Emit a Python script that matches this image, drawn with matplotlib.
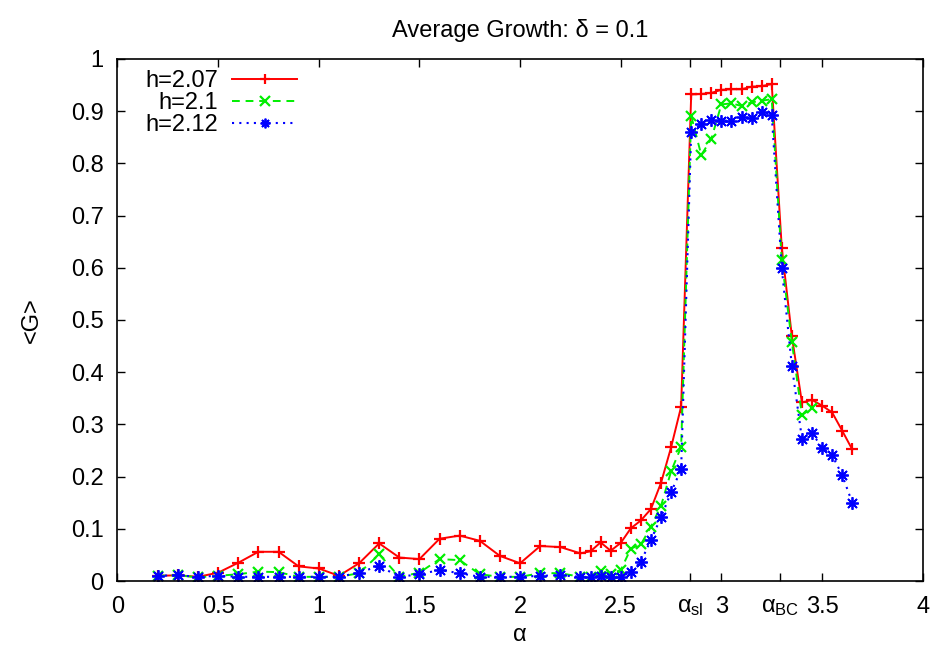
import matplotlib
matplotlib.use("Agg")
import matplotlib.pyplot as plt

plt.rcParams['font.family'] = ['Liberation Sans', 'DejaVu Sans']
plt.rcParams['mathtext.fontset'] = 'custom'
plt.rcParams['mathtext.rm'] = 'Liberation Sans'
plt.rcParams['mathtext.it'] = 'Liberation Sans'
plt.rcParams['mathtext.bf'] = 'Liberation Sans:bold'

# alpha sample points
alpha = [0.2, 0.3, 0.4, 0.5, 0.6, 0.7, 0.8, 0.9, 1.0, 1.1, 1.2, 1.3, 1.4, 1.5,
         1.6, 1.7, 1.8, 1.9, 2.0, 2.1, 2.2, 2.3, 2.35, 2.4, 2.45, 2.5, 2.55,
         2.6, 2.65, 2.7, 2.75, 2.8, 2.85, 2.9, 2.95, 3.0, 3.05, 3.1, 3.15,
         3.2, 3.25, 3.3, 3.35, 3.4, 3.45, 3.5, 3.55, 3.6, 3.65]

g_h207 = [0.010, 0.011, 0.008, 0.016, 0.035, 0.056, 0.056, 0.028, 0.024, 0.010,
          0.034, 0.072, 0.045, 0.042, 0.081, 0.087, 0.077, 0.048, 0.034, 0.067,
          0.065, 0.053, 0.057, 0.074, 0.058, 0.073, 0.101, 0.116, 0.138, 0.188,
          0.256, 0.334, 0.932, 0.933, 0.935, 0.941, 0.942, 0.942, 0.947, 0.948,
          0.952, 0.638, 0.469, 0.342, 0.347, 0.336, 0.323, 0.288, 0.252]

g_h210 = [0.010, 0.011, 0.007, 0.010, 0.013, 0.018, 0.017, 0.008, 0.008, 0.008,
          0.015, 0.051, 0.008, 0.016, 0.042, 0.040, 0.013, 0.008, 0.008, 0.015,
          0.015, 0.008, 0.008, 0.019, 0.014, 0.021, 0.062, 0.070, 0.104, 0.144,
          0.210, 0.257, 0.891, 0.816, 0.847, 0.913, 0.915, 0.910, 0.917, 0.920,
          0.923, 0.614, 0.458, 0.318, 0.331]

g_h212 = [0.010, 0.011, 0.008, 0.010, 0.008, 0.008, 0.008, 0.008, 0.008, 0.008,
          0.016, 0.029, 0.008, 0.013, 0.021, 0.015, 0.008, 0.008, 0.008, 0.010,
          0.011, 0.008, 0.008, 0.009, 0.007, 0.008, 0.017, 0.037, 0.079, 0.122,
          0.170, 0.214, 0.861, 0.875, 0.883, 0.882, 0.882, 0.888, 0.886, 0.898,
          0.893, 0.599, 0.412, 0.273, 0.284, 0.255, 0.241, 0.203, 0.150]

labels = ['h=2.07', 'h=2.1', 'h=2.12']

x_ticks = [0, 0.5, 1, 1.5, 2, 2.5, 2.845, 3, 3.29, 3.5, 4]
x_ticklabels = ['0', '0.5', '1', '1.5', '2', '2.5', r'$\alpha_{\rm sl}$', '3',
                r'$\alpha_{\rm BC}$', '3.5', '4']
y_ticks = [0, 0.1, 0.2, 0.3, 0.4, 0.5, 0.6, 0.7, 0.8, 0.9, 1.0]
y_ticklabels = ['0', '0.1', '0.2', '0.3', '0.4', '0.5', '0.6', '0.7', '0.8', '0.9', '1']

fig = plt.figure(figsize=(9.34, 6.51), dpi=100)
ax = fig.add_axes([0.1258, 0.1075, 0.8621, 0.8019])

fs = 17
ax.plot(alpha, g_h207, color='#ff0000', lw=1.4, ls='-', marker='+',
        ms=9, mew=1.6, label=labels[0])
ax.plot(alpha[:len(g_h210)], g_h210, color='#00ee00', lw=1.4, ls=(0, (4, 3)),
        marker='x', ms=7, mew=1.6, label=labels[1])
ax.plot(alpha, g_h212, color='#0000ff', lw=1.5, ls=(0, (1, 2.5)),
        marker=(8, 2, 0), ms=9, mew=1.3, label=labels[2])

ax.set_xlim(0, 4)
ax.set_ylim(0, 1)
ax.set_xticks(x_ticks)
ax.set_xticklabels(x_ticklabels)
ax.set_yticks(y_ticks)
ax.set_yticklabels(y_ticklabels)
ax.tick_params(direction='in', top=True, right=True, length=6, width=1,
               labelsize=fs, pad=10)
ax.tick_params(axis='x', pad=11)
for s in ax.spines.values():
    s.set_linewidth(1.2)

ax.set_title('Average Growth: δ = 0.1', fontsize=fs, pad=16)
ax.set_xlabel('α', fontsize=fs, labelpad=4)
ax.set_ylabel('<G>', fontsize=fs, labelpad=20)

leg = ax.legend(loc='upper right', bbox_to_anchor=(0.223, 0.978),
                frameon=False, markerfirst=False, fontsize=fs,
                handlelength=2.75, handletextpad=0.6, labelspacing=0.0,
                borderpad=0, borderaxespad=0)
for h in leg.legend_handles:
    h.set_markersize(7)

fig.savefig('out.png', dpi=100)
